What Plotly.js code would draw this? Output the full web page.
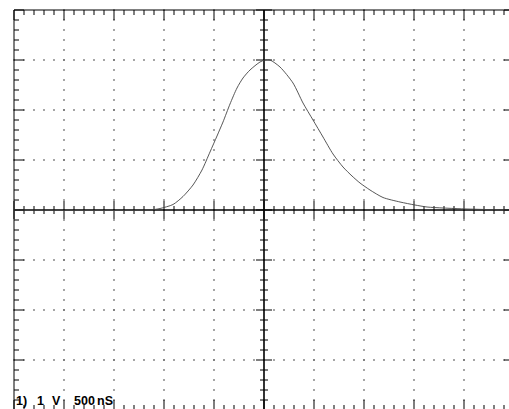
<!DOCTYPE html>
<html>
<head>
<meta charset="utf-8">
<script src="https://cdn.plot.ly/plotly-3.0.1.min.js"></script>
<style>
html,body{margin:0;padding:0;background:#fff;overflow:hidden;}
#chart{width:509px;height:409px;}
</style>
</head>
<body>
<div id="chart"></div>
<script>
// Waveform: time in ns (500 ns/div), amplitude in V (1 V/div)
const timeNs = [-2500, -1140, -1040, -910, -810, -710, -620, -540, -470, -410, -340, -270, -210, -140, -40, 10, 60, 160, 290, 390, 490, 590, 690, 790, 880, 960, 1060, 1190, 1360, 1510, 1630, 1790, 2030, 2430, 2500];
const volts  = [0, 0, 0.03, 0.11, 0.27, 0.5, 0.8, 1.16, 1.48, 1.76, 2.12, 2.44, 2.64, 2.8, 2.96, 3.0, 3.0, 2.86, 2.54, 2.14, 1.8, 1.46, 1.12, 0.86, 0.68, 0.54, 0.4, 0.25, 0.16, 0.1, 0.06, 0.04, 0.02, 0.0, 0.0];

// Readout labels
const readoutText = ["1)", "1", "V", "500", "nS"];

// Graticule settings (divisions)
const timePerDiv = 500, voltPerDiv = 1;
const xDivs = 10, yDivs = 8, minorPerDiv = 5;

const xMin = -timePerDiv * xDivs / 2, xMax = timePerDiv * xDivs / 2;
const yMin = -voltPerDiv * yDivs / 2, yMax = voltPerDiv * yDivs / 2;
const pxX = timePerDiv / 50;   // ns per pixel
const pxY = voltPerDiv / 50;   // V per pixel
const minX = timePerDiv / minorPerDiv, minY = voltPerDiv / minorPerDiv;

// dotted grid
const dotX = [], dotY = [];
for (let i = 1; i < xDivs; i++) {
  const gx = xMin + i * timePerDiv;
  if (Math.abs(gx) < 1e-9) continue;
  for (let k = 0; k <= yDivs * minorPerDiv; k++) { dotX.push(gx); dotY.push(yMin + k * minY); }
}
for (let j = 1; j < yDivs; j++) {
  const gy = yMin + j * voltPerDiv;
  if (Math.abs(gy) < 1e-9) continue;
  for (let k = 0; k <= xDivs * minorPerDiv; k++) { dotX.push(xMin + k * minX); dotY.push(gy); }
}

// tick segments
const tX = [], tY = [];
function seg(x0, y0, x1, y1) { tX.push(x0, x1, null); tY.push(y0, y1, null); }
// borders
seg(xMin, yMin, xMin, yMax); seg(xMin, yMax, xMax, yMax);
seg(xMax, yMin, xMax, yMax); seg(xMin, yMin, xMax, yMin);
for (let k = 0; k <= xDivs * minorPerDiv; k++) {
  const x = xMin + k * minX;
  const major = k % minorPerDiv === 0;
  const L = (major ? 10 : 5) * pxY;
  seg(x, yMax, x, yMax - L);
  seg(x, yMin, x, yMin + L);
  const C = (major ? 9 : 4) * pxY;
  seg(x, -C, x, C);
}
for (let k = 0; k <= yDivs * minorPerDiv; k++) {
  const y = yMin + k * minY;
  const major = k % minorPerDiv === 0;
  const L = (major ? 10 : 5) * pxX;
  seg(xMin, y, xMin + L, y);
  seg(xMax, y, xMax - L, y);
  const C = (major ? 8 : 4) * pxX;
  seg(-C, y, C, y);
}

const traces = [
  {x: dotX, y: dotY, mode: 'markers', type: 'scatter',
   marker: {symbol: 'square', size: 1.6, color: '#6a6a6a', line: {width: 0}}, hoverinfo: 'skip'},
  {x: tX, y: tY, mode: 'lines', type: 'scatter', connectgaps: false,
   line: {color: '#000', width: 1}, hoverinfo: 'skip'},
  {x: [0, 0, null, xMin, xMax], y: [yMin, yMax, null, 0, 0], mode: 'lines', type: 'scatter',
   line: {color: '#000', width: 1.6}, hoverinfo: 'skip'},
  {x: timeNs, y: volts, mode: 'lines', type: 'scatter',
   line: {color: '#444', width: 0.9, shape: 'spline', smoothing: 0.7}, hoverinfo: 'skip'}
];

const labelPx = [15, 36, 51, 73, 96];
const annotations = readoutText.map((t, i) => ({
  text: t, xref: 'x', yref: 'y',
  x: xMin + (labelPx[i] - 14) * pxX, y: yMin + 1 * pxY,
  xanchor: 'left', yanchor: 'bottom', showarrow: false, borderpad: 0,
  font: {family: 'Liberation Sans Narrow, Liberation Sans, Arial, sans-serif', size: 12.5, color: '#000', weight: 'bold'}
}));

const layout = {
  width: 509, height: 409,
  margin: {l: 13, r: 0, t: 9, b: 0, pad: 0},
  paper_bgcolor: '#fff', plot_bgcolor: '#fff',
  showlegend: false, hovermode: false,
  xaxis: {range: [xMin - pxX, xMax - 5 * pxX], showgrid: false, zeroline: false, showticklabels: false, ticks: '', showline: false, fixedrange: true},
  yaxis: {range: [yMin + pxY, yMax + pxY], showgrid: false, zeroline: false, showticklabels: false, ticks: '', showline: false, fixedrange: true},
  annotations: annotations
};

Plotly.newPlot('chart', traces, layout, {staticPlot: true, displayModeBar: false});
</script>
</body>
</html>
